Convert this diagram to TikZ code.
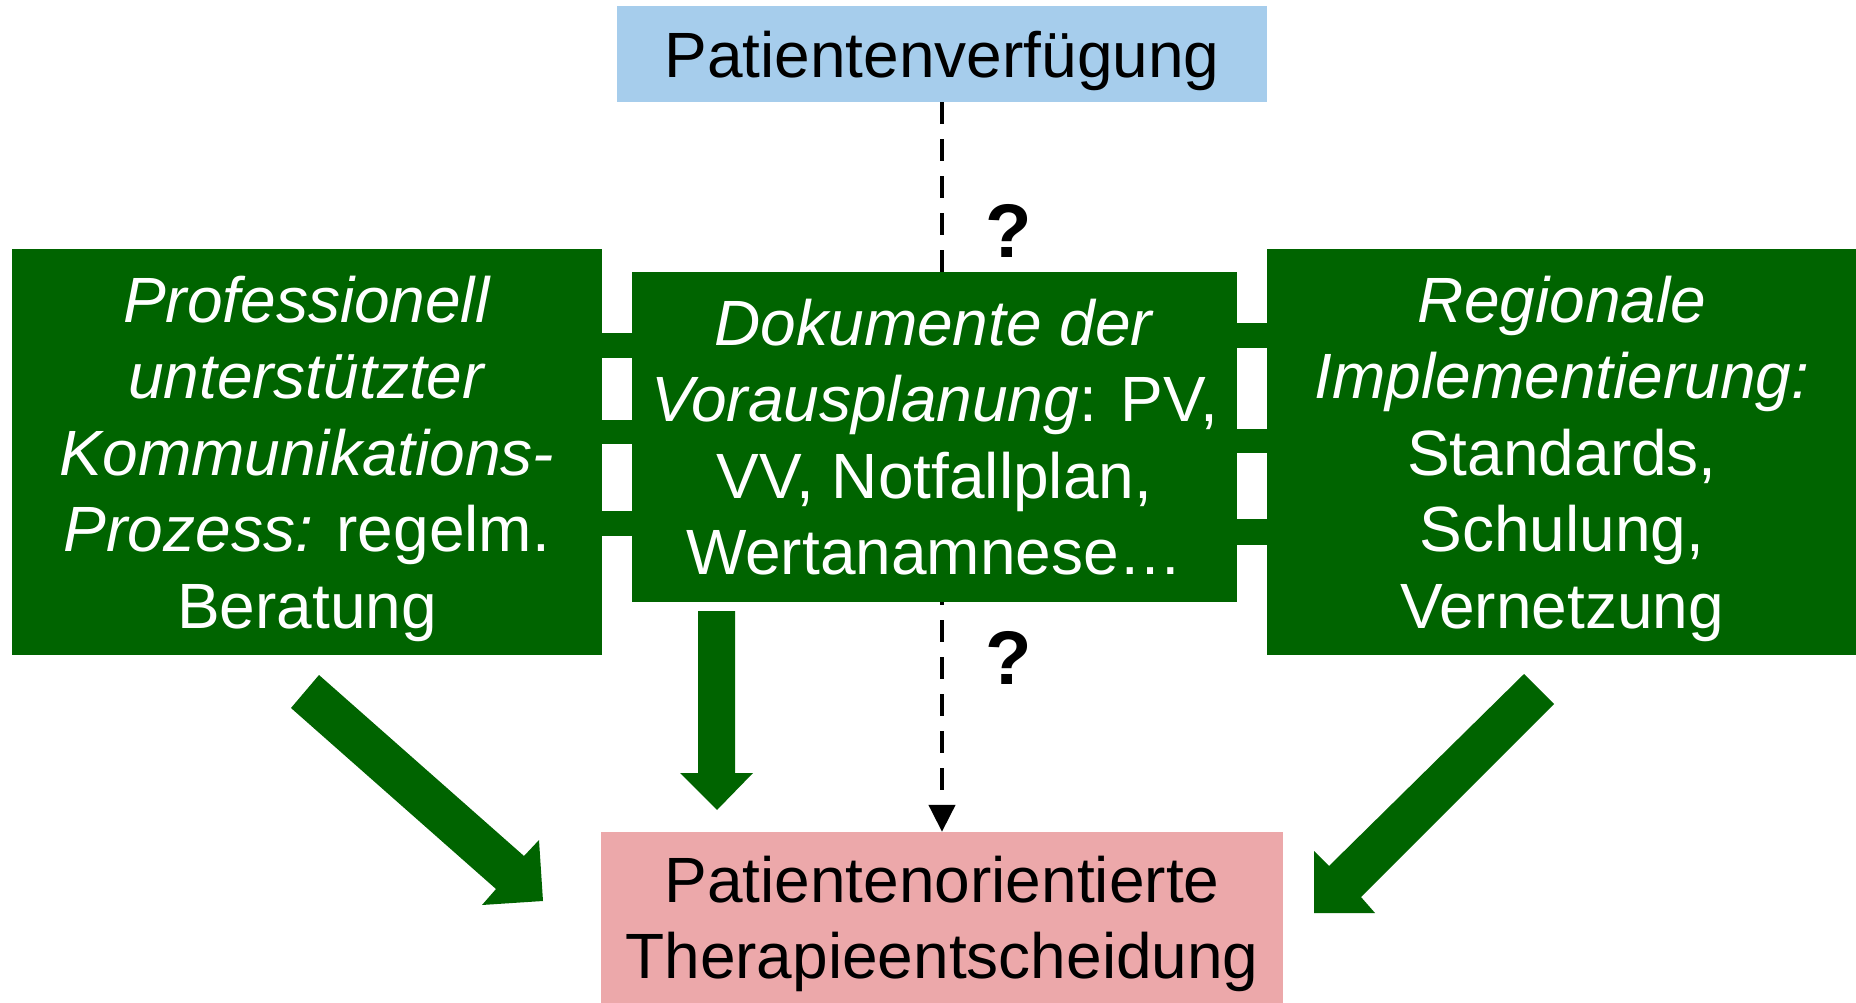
\documentclass[tikz,border=0pt]{standalone}
\usepackage{fontspec}
\setmainfont{Liberation Sans}
\usetikzlibrary{arrows.meta,backgrounds}
\definecolor{dgreen}{RGB}{0,100,0}
\definecolor{pvblue}{RGB}{166,205,236}
\definecolor{therred}{RGB}{236,168,170}
\begin{document}
\begin{tikzpicture}[x=1pt,y=-1pt,
  bigfont/.style={font=\fontsize{64}{76.5}\selectfont},
  greenbox/.style={bigfont, fill=dgreen, text=white, inner sep=0pt, align=center},
  lightbox/.style={bigfont, text=black, inner sep=0pt, align=center, text depth=0pt},
  qmark/.style={font=\fontsize{76}{80}\selectfont\bfseries, text=black, inner sep=0pt},
  blockarrow/.style={fill=dgreen},
  bridge/.style={fill=dgreen},
  dashconn/.style={draw=black, line width=4.5pt, dash pattern=on 22pt off 15pt,
    -{Triangle[length=27pt,width=26pt]}}]
\clip (0,0) rectangle (1856,1003);

% boxes
\node[lightbox, fill=pvblue, minimum width=650pt, minimum height=96pt] (pv) at (942,54) {Patientenverfügung};
\node[greenbox, text depth=0pt, minimum width=590pt, minimum height=406pt] (L) at (307,452)
  {\textit{Professionell}\\ \textit{unterstützter}\\ \textit{Kommunikations-}\\ \textit{Prozess:} regelm.\\ Beratung};
\node[greenbox, minimum width=605pt, minimum height=330pt] (C) at (934.5,437)
  {\textit{Dokumente der}\\ \textit{Vorausplanung}: PV,\\ VV, Notfallplan,\\ Wertanamnese…};
\node[greenbox, text depth=0pt, minimum width=590pt, minimum height=406pt] (R) at (1562,452)
  {\textit{Regionale}\\ \textit{Implementierung:}\\ Standards,\\ Schulung,\\ Vernetzung};
\node[lightbox, fill=therred, minimum width=682pt, minimum height=171pt] (T) at (942,917.5)
  {Patientenorientierte\\ Therapieentscheidung};

% white page and dashed connector (behind the central box)
\begin{scope}[on background layer]
  \fill[white] (0,0) rectangle (1856,1003);
  \draw[dashconn] (pv.south) -- (T.north);
\end{scope}

% bridges between boxes
\fill[bridge] ([xshift=-1pt]L.east |- 0,333) rectangle ([xshift=1pt]C.west |- 0,358);
\fill[bridge] ([xshift=-1pt]L.east |- 0,420) rectangle ([xshift=1pt]C.west |- 0,444);
\fill[bridge] ([xshift=-1pt]L.east |- 0,511) rectangle ([xshift=1pt]C.west |- 0,536);
\fill[bridge] ([xshift=-1pt]C.east |- 0,323) rectangle ([xshift=1pt]R.west |- 0,348);
\fill[bridge] ([xshift=-1pt]C.east |- 0,429) rectangle ([xshift=1pt]R.west |- 0,453);
\fill[bridge] ([xshift=-1pt]C.east |- 0,519) rectangle ([xshift=1pt]R.west |- 0,545);

% question marks
\node[qmark] (q1) at (1009,231) {?};
\node[qmark] (q2) at (1009,658) {?};

% block arrows
\fill[blockarrow] (319,675) -- (291,708) -- (496,889) -- (482,905) -- (543,901) -- (539,840) -- (524,856) -- cycle;
\fill[blockarrow] (698,611) -- (735,611) -- (735,773) -- (753,773) -- (717,810) -- (680,773) -- (698,773) -- cycle;
\fill[blockarrow] (1524,674) -- (1554,704) -- (1361,897) -- (1375,913) -- (1314,913) -- (1314,851) -- (1329,866) -- cycle;
\end{tikzpicture}
\end{document}
